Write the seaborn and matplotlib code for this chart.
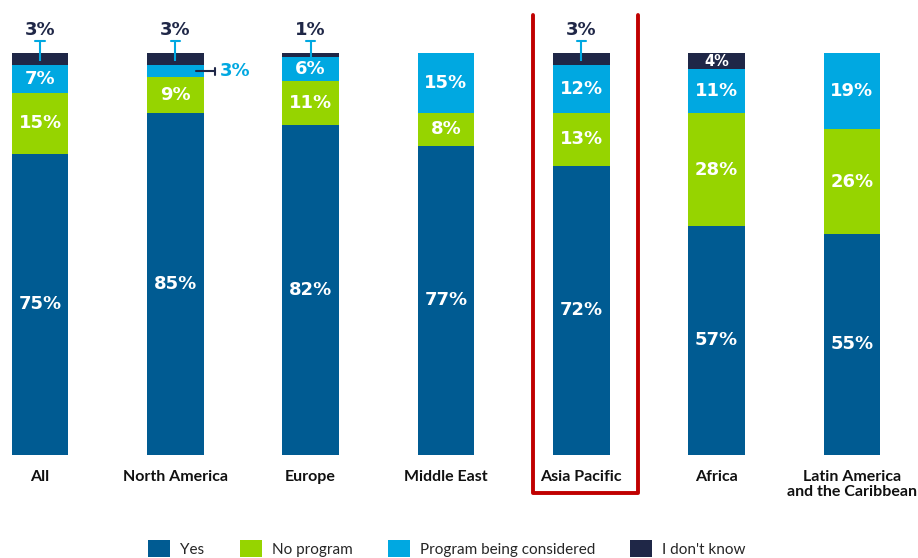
import matplotlib
matplotlib.use("Agg")
import matplotlib.pyplot as plt
import matplotlib.patches as mpatches
import numpy as np
import pandas as pd
import seaborn as sns

# Survey results by region (percent of respondents)
regions = ["All", "North America", "Europe", "Middle East", "Asia Pacific",
           "Africa", "Latin America\nand the Caribbean"]
yes = [75, 85, 82, 77, 72, 57, 55]
no_program = [15, 9, 11, 8, 13, 28, 26]
considered = [7, 3, 6, 15, 12, 11, 19]
dont_know = [3, 3, 1, 0, 3, 4, 0]

series_names = ["Yes", "No program", "Program being considered", "I don't know"]
colors = ["#005b92", "#96d400", "#00a8e1", "#1f2747"]

sns.set_theme(style="white")
plt.rcParams["font.family"] = ["Lato", "DejaVu Sans"]
num_font = ["DejaVu Sans"]

fig = plt.figure(figsize=(9.18, 5.58), dpi=100)
ax = fig.add_axes([0, 0.1846, 1, 0.8154])

df = pd.DataFrame({"region": regions, "Yes": yes, "No program": no_program,
                   "Program being considered": considered,
                   "I don't know": dont_know})
cum = df[series_names].cumsum(axis=1)

# stacked bars: draw the tallest cumulative layer first, then overlay lower ones
for name, col in reversed(list(zip(series_names, colors))):
    sns.barplot(x=df["region"], y=cum[name], color=col, width=0.42,
                saturation=1, ax=ax, order=regions, linewidth=0)

ax.set_xlim(-0.2956, 6.488)
ax.set_ylim(0, 113.2)
ax.set_xlabel("")
ax.set_ylabel("")
ax.set_yticks([])
for s in ax.spines.values():
    s.set_visible(False)
ax.tick_params(axis="x", length=0, pad=11)
for t in ax.get_xticklabels():
    t.set_fontweight("bold")
    t.set_fontsize(11.5)
    t.set_color("#111111")
    t.set_linespacing(1.05)

seg_values = [yes, no_program, considered, dont_know]
label_kw = dict(ha="center", va="center", fontweight="bold", color="white",
                family=num_font)
for i in range(len(regions)):
    base = 0
    for k, vals in enumerate(seg_values):
        v = vals[i]
        if v >= 4:
            fs = 13 if v >= 6 else 10.5
            ax.text(i, base + v / 2, f"{v}%", fontsize=fs, **label_kw)
        base += v

    total = base
    dk = dont_know[i]
    # small "I don't know" share: callout above the bar
    if 0 < dk < 4:
        ax.plot([i, i], [total - 2.0, total + 3.0], color="#00a8e1",
                lw=1.5, solid_capstyle="butt")
        ax.plot([i - 0.035, i + 0.035], [total + 3.0, total + 3.0],
                color="#00a8e1", lw=1.5)
        ax.text(i, total + 5.8, f"{dk}%", ha="center", va="center",
                fontsize=13, fontweight="bold", color="#1f2747",
                family=num_font)

    # small "Program being considered" share: callout to the right
    c = considered[i]
    if c < 4:
        yc = yes[i] + no_program[i] + c / 2
        ax.plot([i + 0.15, i + 0.29], [yc, yc], color="#1f2747", lw=1.5)
        ax.plot([i + 0.29, i + 0.29], [yc - 0.9, yc + 0.9], color="#1f2747",
                lw=1.5)
        ax.text(i + 0.33, yc, f"{c}%", ha="left", va="center", fontsize=13,
                fontweight="bold", color="#00a8e1", family=num_font)

# highlight frame around Asia Pacific (open at the top)
x0, x1 = 533 / 918, 638 / 918
y0, y1 = (558 - 493) / 558, (558 - 15) / 558
fig.add_artist(plt.Line2D([x0, x0, x1, x1], [y1, y0, y0, y1],
                          transform=fig.transFigure, color="#c00000", lw=2.8))

handles = [mpatches.Patch(color=c, label=n, linewidth=0)
           for c, n in zip(colors, series_names)]
fig.legend(handles=handles, loc="center", bbox_to_anchor=(0.487, 0.017),
           ncol=4, frameon=False, fontsize=11, handlelength=1.45,
           handleheight=1.35, handletextpad=0.65, columnspacing=2.3)

fig.savefig("out.png", dpi=100)
